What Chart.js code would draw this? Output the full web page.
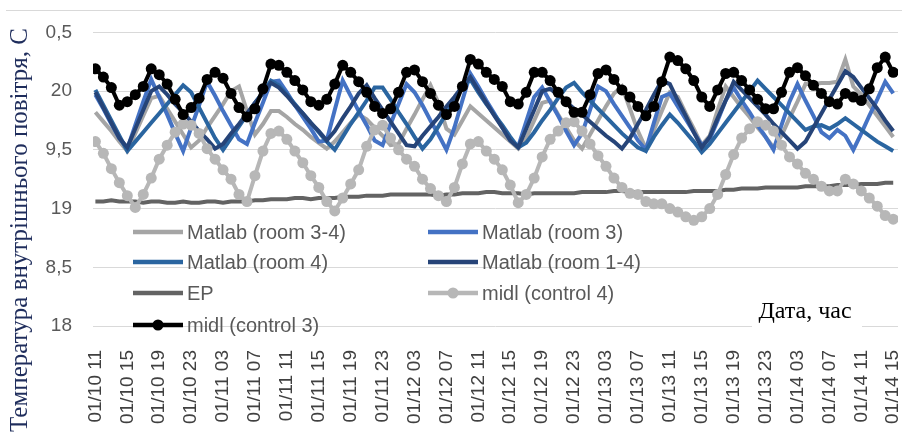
<!DOCTYPE html>
<html>
<head>
<meta charset="utf-8">
<script src="https://cdn.jsdelivr.net/npm/chart.js@4.4.0/dist/chart.umd.min.js"></script>
<style>
  html, body { margin: 0; padding: 0; background: #fff; }
  #wrap { width: 904px; height: 441px; }
</style>
</head>
<body>
<div id="wrap"><canvas id="chart" width="904" height="441"></canvas></div>
<script>
// tick labels every 4 hours, data is hourly (101 points)
const tickLabels = ['01/10 11', '01/10 15', '01/10 19', '01/10 23',
    '01/11 03', '01/11 07', '01/11 11', '01/11 15', '01/11 19', '01/11 23',
    '01/12 03', '01/12 07', '01/12 11', '01/12 15', '01/12 19', '01/12 23',
    '01/13 03', '01/13 07', '01/13 11', '01/13 15', '01/13 19', '01/13 23',
    '01/14 03', '01/14 07', '01/14 11', '01/14 15'];
const yTickLabels = ['18', '8,5', '19', '9,5', '20', '0,5'];

const seriesNames = ['Matlab (room 3-4)', 'Matlab (room 3)', 'Matlab (room 4)',
    'Matlab (room 1-4)', 'EP', 'midl (control 4)', 'midl (control 3)'];

const matlabRoom34 = [19.82,19.74,19.66,19.57,19.49,19.64,19.79,19.94,19.96,19.85,
    19.74,19.63,19.52,19.58,19.69,19.79,19.89,20.00,20.04,19.83,
    19.63,19.72,19.83,19.83,19.78,19.72,19.67,19.61,19.56,19.51,
    19.57,19.65,19.73,19.80,19.76,19.69,19.62,19.54,19.55,19.68,
    19.80,19.93,20.05,19.90,19.68,19.63,19.75,19.87,19.81,19.75,
    19.69,19.63,19.57,19.51,19.60,19.75,19.90,19.92,19.80,19.69,
    19.58,19.51,19.63,19.75,19.87,19.98,20.04,19.85,19.66,19.51,
    19.67,19.83,19.99,19.95,19.81,19.68,19.54,19.62,19.84,20.04,
    19.95,19.86,19.78,19.69,19.61,19.52,19.62,19.77,19.91,20.06,
    20.06,20.07,20.07,20.08,20.27,20.04,19.97,19.88,19.79,19.70,
    19.61];
const matlabRoom3 = [19.97,19.85,19.72,19.60,19.51,19.71,19.91,20.10,19.95,19.80,
    19.64,19.49,19.69,19.88,20.08,19.96,19.83,19.71,19.59,19.55,
    19.73,19.90,20.08,20.09,19.99,19.88,19.78,19.68,19.57,19.58,
    19.84,20.09,19.96,19.83,19.71,19.58,19.54,19.72,19.89,20.06,
    19.99,19.88,19.75,19.63,19.50,19.69,19.92,20.15,20.04,19.92,
    19.81,19.69,19.58,19.53,19.74,19.95,20.03,19.91,19.79,19.66,
    19.54,19.64,19.84,20.04,20.00,19.89,19.79,19.69,19.58,19.50,
    19.73,19.95,19.98,19.87,19.76,19.65,19.54,19.59,19.75,19.92,
    20.03,19.92,19.82,19.71,19.61,19.50,19.71,19.91,20.06,19.92,
    19.79,19.65,19.60,19.67,19.62,19.50,19.64,19.79,19.93,20.08,
    19.98];
const matlabRoom4 = [20.01,19.88,19.75,19.62,19.49,19.57,19.65,19.73,19.81,19.89,
    19.97,20.05,19.99,19.86,19.73,19.60,19.50,19.60,19.70,19.80,
    19.90,19.99,20.09,20.05,19.97,19.89,19.81,19.73,19.65,19.57,
    19.50,19.61,19.72,19.82,19.92,20.03,20.03,19.93,19.82,19.72,
    19.61,19.51,19.59,19.70,19.81,19.92,20.03,20.10,19.99,19.89,
    19.80,19.71,19.61,19.52,19.56,19.65,19.75,19.84,19.94,20.03,
    20.07,19.99,19.92,19.85,19.78,19.71,19.64,19.58,19.52,19.49,
    19.61,19.71,19.80,19.73,19.65,19.57,19.48,19.55,19.64,19.73,
    19.82,19.91,20.00,20.09,20.02,19.95,19.88,19.81,19.74,19.67,
    19.70,19.71,19.68,19.72,19.77,19.72,19.67,19.62,19.57,19.53,
    19.49];
const matlabRoom14 = [19.99,19.86,19.73,19.60,19.52,19.68,19.84,20.00,20.04,19.97,
    19.89,19.82,19.74,19.66,19.59,19.51,19.55,19.64,19.72,19.81,
    19.90,19.98,20.07,20.03,19.96,19.88,19.81,19.73,19.66,19.58,
    19.66,19.77,19.87,19.98,20.05,19.94,19.84,19.74,19.64,19.54,
    19.53,19.62,19.70,19.78,19.87,19.95,20.04,20.12,20.01,19.90,
    19.79,19.69,19.58,19.52,19.68,19.84,20.00,20.02,19.97,19.91,
    19.85,19.80,19.74,19.68,19.62,19.57,19.51,19.60,19.72,19.84,
    19.97,20.09,20.06,19.92,19.79,19.65,19.52,19.61,19.77,19.92,
    20.08,20.01,19.94,19.87,19.80,19.72,19.65,19.58,19.51,19.57,
    19.69,19.81,19.93,20.05,20.17,20.12,20.03,19.94,19.85,19.75,
    19.66];
const epValues = [19.06,19.06,19.07,19.06,19.06,19.06,19.05,19.06,19.06,19.05,
    19.05,19.06,19.05,19.05,19.06,19.06,19.05,19.06,19.06,19.06,
    19.07,19.07,19.08,19.08,19.08,19.09,19.09,19.08,19.09,19.09,
    19.09,19.10,19.10,19.10,19.11,19.11,19.11,19.12,19.12,19.12,
    19.12,19.12,19.12,19.11,19.12,19.12,19.13,19.13,19.13,19.14,
    19.14,19.13,19.13,19.13,19.12,19.13,19.13,19.13,19.13,19.13,
    19.13,19.14,19.14,19.14,19.14,19.15,19.15,19.14,19.14,19.14,
    19.14,19.14,19.14,19.14,19.14,19.15,19.15,19.15,19.15,19.16,
    19.16,19.17,19.17,19.17,19.18,19.18,19.18,19.18,19.18,19.19,
    19.19,19.19,19.19,19.20,19.20,19.20,19.21,19.21,19.21,19.22,
    19.22];
const midlControl4 = [19.57,19.47,19.34,19.22,19.11,19.01,19.12,19.26,19.42,19.54,
    19.65,19.72,19.71,19.64,19.51,19.42,19.33,19.25,19.12,19.06,
    19.28,19.49,19.64,19.66,19.59,19.49,19.39,19.28,19.18,19.06,
    18.98,19.09,19.21,19.33,19.53,19.67,19.71,19.60,19.50,19.42,
    19.36,19.25,19.17,19.11,19.06,19.18,19.38,19.55,19.57,19.49,
    19.42,19.33,19.20,19.05,19.12,19.26,19.44,19.59,19.66,19.73,
    19.74,19.66,19.55,19.45,19.36,19.26,19.18,19.13,19.12,19.06,
    19.04,19.04,19.00,18.97,18.93,18.90,18.93,19.00,19.12,19.29,
    19.46,19.60,19.68,19.74,19.71,19.66,19.54,19.44,19.38,19.30,
    19.25,19.19,19.15,19.15,19.25,19.21,19.15,19.09,19.02,18.94,
    18.91];
const midlControl3 = [20.19,20.12,20.03,19.88,19.91,19.97,20.04,20.19,20.14,20.06,
    19.93,19.80,19.86,19.94,20.10,20.16,20.11,19.98,19.86,19.78,
    19.85,20.02,20.23,20.22,20.16,20.09,20.01,19.91,19.88,19.93,
    20.06,20.22,20.16,20.08,19.99,19.87,19.81,19.85,19.99,20.16,
    20.18,20.08,19.98,19.88,19.80,19.87,20.04,20.27,20.23,20.16,
    20.10,20.04,19.91,19.89,19.99,20.16,20.16,20.09,19.99,19.91,
    19.82,19.82,19.97,20.15,20.18,20.10,20.01,19.95,19.87,19.79,
    19.87,20.08,20.29,20.26,20.19,20.09,19.95,19.87,20.01,20.15,
    20.16,20.09,20.01,19.93,19.85,19.85,19.99,20.16,20.20,20.13,
    20.05,19.98,19.91,19.89,19.98,19.95,19.92,20.02,20.20,20.29,
    20.16];

const allSeries = [matlabRoom34, matlabRoom3, matlabRoom4, matlabRoom14,
    epValues, midlControl4, midlControl3];
const colors = ['#a5a5a5', '#4472c4', '#2a65a0', '#264478', '#636363', '#b7b7b7', '#000000'];
const markers = [0, 0, 0, 0, 0, 5.5, 5.5];

const FONT = '"Liberation Sans", Arial, sans-serif';
const SERIF = '"Liberation Serif", "Times New Roman", serif';

const datasets = allSeries.map((values, k) => ({
    label: seriesNames[k],
    data: values.map((v, i) => ({ x: i, y: v })),
    borderColor: colors[k],
    backgroundColor: colors[k],
    borderWidth: 4,
    pointRadius: markers[k],
    pointBorderWidth: 0,
    pointBackgroundColor: colors[k],
    tension: 0,
    order: allSeries.length - k
}));

// legend, axis titles and top frame line are drawn by hand
const overlay = {
    id: 'overlay',
    beforeDraw(chart) {
        const ctx = chart.ctx;
        ctx.save();
        ctx.strokeStyle = '#d9d9d9';
        ctx.lineWidth = 1;
        ctx.beginPath();
        ctx.moveTo(6, 10.5);
        ctx.lineTo(902, 10.5);
        ctx.stroke();
        ctx.restore();
    },
    afterDraw(chart) {
        const ctx = chart.ctx;
        ctx.save();
        // legend
        const rowsY = [232, 262, 293, 325];
        chart.data.datasets.forEach((ds, k) => {
            const x0 = k % 2 === 0 ? 133 : 428;
            const y = rowsY[Math.floor(k / 2)];
            ctx.strokeStyle = ds.borderColor;
            ctx.lineWidth = 4.5;
            ctx.beginPath();
            ctx.moveTo(x0, y);
            ctx.lineTo(x0 + 50, y);
            ctx.stroke();
            if (ds.pointRadius > 0) {
                ctx.fillStyle = ds.borderColor;
                ctx.beginPath();
                ctx.arc(x0 + 25, y, ds.pointRadius, 0, Math.PI * 2);
                ctx.fill();
            }
            ctx.fillStyle = '#595959';
            ctx.font = '20px ' + FONT;
            ctx.textAlign = 'left';
            ctx.textBaseline = 'middle';
            ctx.fillText(ds.label, x0 + 54, y + 1);
        });

        // y axis title
        ctx.fillStyle = '#1f2d5c';
        ctx.font = '25px ' + SERIF;
        ctx.textAlign = 'center';
        ctx.textBaseline = 'middle';
        ctx.translate(20, 230);
        ctx.rotate(-Math.PI / 2);
        ctx.fillText('Температура внутрішнього повітря, С', 0, 0);
        ctx.restore();

        // x axis title with white box
        ctx.save();
        ctx.fillStyle = '#ffffff';
        ctx.fillRect(752, 299, 110, 31);
        ctx.fillStyle = '#000000';
        ctx.font = '24px ' + SERIF;
        ctx.textAlign = 'center';
        ctx.textBaseline = 'middle';
        ctx.fillText('Дата, час', 805, 312);
        ctx.restore();
    }
};

new Chart(document.getElementById('chart'), {
    type: 'line',
    data: { datasets: datasets },
    options: {
        responsive: false,
        animation: false,
        layout: { padding: { top: 30, right: 6, left: 0, bottom: 0 } },
        plugins: { legend: { display: false }, tooltip: { enabled: false } },
        scales: {
            x: {
                type: 'linear',
                min: -0.3,
                max: 100.6,
                grid: { display: false },
                border: { display: false },
                afterBuildTicks: (scale) => {
                    scale.ticks = tickLabels.map((t, k) => ({ value: k * 4 }));
                },
                afterFit: (scale) => {
                    scale.height = 115;
                    scale.paddingLeft = 0;
                    scale.paddingRight = 0;
                },
                ticks: {
                    autoSkip: false,
                    minRotation: 90,
                    maxRotation: 90,
                    padding: 16,
                    color: '#404040',
                    font: { family: FONT, size: 19 },
                    callback: (value) => tickLabels[Math.round(value / 4)]
                }
            },
            y: {
                min: 18,
                max: 20.5,
                grid: { color: '#d9d9d9', lineWidth: 1, drawTicks: false },
                border: { display: false },
                afterFit: (scale) => { scale.width = 93; },
                ticks: {
                    stepSize: 0.5,
                    padding: 21,
                    color: '#595959',
                    font: { family: FONT, size: 19 },
                    callback: (value) => yTickLabels[Math.round((value - 18) / 0.5)]
                }
            }
        }
    },
    plugins: [overlay]
});
</script>
</body>
</html>
